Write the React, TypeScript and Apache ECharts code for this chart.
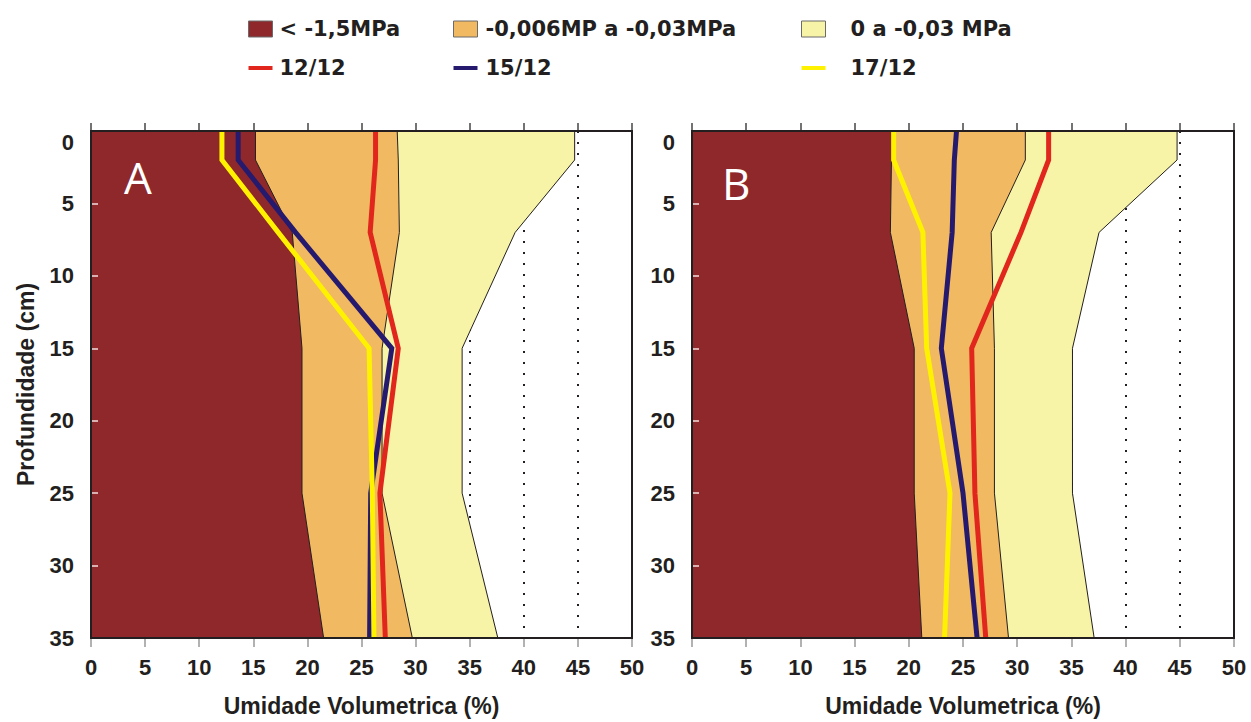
import React, { useEffect, useRef } from 'react';
import * as echarts from 'echarts';

// Depths (cm) at which profiles were measured
const depths = [0, 2, 7, 15, 25, 35];

// Panel A: right edges of the water-potential bands (% volumetric moisture)
const dryA = [15.2, 15.2, 18.6, 19.5, 19.5, 21.5];
const midA = [28.3, 28.4, 28.5, 26.9, 26.9, 29.7];
const wetA = [44.7, 44.7, 39.2, 34.3, 34.3, 37.6];
// Panel A: measured profiles
const d1212A = [26.3, 26.3, 25.8, 28.4, 26.7, 27.2];
const d1512A = [13.6, 13.6, 18.9, 27.8, 25.85, 25.75];
const d1712A = [12.1, 12.1, 17.3, 25.7, 26.0, 26.15];

// Panel B
const dryB = [18.4, 18.4, 18.3, 20.5, 20.5, 21.2];
const midB = [30.75, 30.75, 27.6, 27.9, 27.9, 29.2];
const wetB = [44.75, 44.75, 37.55, 35.1, 35.1, 37.1];
const d1212B = [32.9, 32.9, 30.35, 25.8, 26.1, 27.1];
const d1512B = [24.4, 24.2, 24.0, 23.0, 25.0, 26.3];
const d1712B = [18.6, 18.6, 21.3, 21.65, 23.8, 23.3];

const bandNames = ['< -1,5MPa', '-0,006MP a -0,03MPa', '0 a -0,03 MPa'];
const lineNames = ['12/12', '15/12', '17/12'];
const panelLabels = ['A', 'B'];

const bandColors = ['#8f282b', '#f1b961', '#f7f4a7'];
const lineColors = ['#e0261d', '#251a6e', '#fff200'];
const INK = '#231f20';

function bandSeries(name: string, color: string, values: number[], g: number) {
  const pts = values.map((v, i) => [v, depths[i]]);
  return {
    type: 'custom',
    name,
    coordinateSystem: 'cartesian2d',
    xAxisIndex: g * 2,
    yAxisIndex: g,
    data: pts,
    encode: { x: 0, y: 1 },
    silent: true,
    clip: true,
    itemStyle: { color, borderColor: '#666', borderWidth: 1 },
    renderItem: (params: any, api: any) => {
      if (params.dataIndex !== 0) return null;
      const edge = pts.map((p) => api.coord(p));
      const poly = [
        api.coord([0, depths[0]]),
        ...edge,
        api.coord([0, depths[depths.length - 1]]),
      ];
      return {
        type: 'group',
        children: [
          { type: 'polygon', shape: { points: poly }, style: { fill: color } },
          {
            type: 'polyline',
            shape: { points: edge },
            style: { stroke: INK, lineWidth: 1, fill: null },
          },
        ],
      };
    },
  };
}

function lineSeries(name: string, color: string, values: number[], g: number) {
  return {
    type: 'line',
    name,
    xAxisIndex: g * 2,
    yAxisIndex: g,
    data: values.map((v, i) => [v, depths[i]]),
    symbol: 'none',
    silent: true,
    lineStyle: { color, width: 5, join: 'miter' },
    itemStyle: { color },
  };
}

const tickFont = {
  fontFamily: 'Liberation Sans',
  fontWeight: 'bold' as const,
  fontSize: 22,
  color: INK,
};
const nameFont = {
  fontFamily: 'Liberation Sans',
  fontWeight: 'bold' as const,
  fontSize: 23,
  color: INK,
};

export default function App() {
  const ref = useRef<HTMLDivElement>(null);

  useEffect(() => {
    document.body.style.margin = '0';
    if (!ref.current) return;
    const chart = echarts.init(ref.current, undefined, { renderer: 'svg' });

    const grids = [
      { left: 91, top: 131, width: 541, height: 509 },
      { left: 692, top: 131, width: 542, height: 509 },
    ].map((g) => ({
      ...g,
      show: true,
      z: 11,
      backgroundColor: 'transparent',
      borderColor: INK,
      borderWidth: 2,
    }));

    const xAxes: any[] = [];
    const yAxes: any[] = [];
    [0, 1].forEach((g) => {
      xAxes.push({
        type: 'value',
        gridIndex: g,
        min: 0,
        max: 50,
        interval: 5,
        position: 'bottom',
        z: 10,
        name: 'Umidade Volumetrica (%)',
        nameLocation: 'middle',
        nameGap: 56,
        nameTextStyle: nameFont,
        axisLine: { show: true, lineStyle: { color: INK, width: 2 } },
        axisTick: { show: true, inside: true, length: 8, lineStyle: { color: '#444', width: 1.5 } },
        axisLabel: { ...tickFont, margin: 18 },
        splitLine: { show: false },
      });
      xAxes.push({
        type: 'value',
        gridIndex: g,
        min: 0,
        max: 50,
        interval: 5,
        position: 'bottom',
        z: 0,
        axisLine: { show: false },
        axisTick: { show: true, inside: false, length: 9, lineStyle: { color: '#999', width: 1.5 } },
        axisLabel: { show: false },
        splitLine: { show: true, lineStyle: { color: INK, width: 2, type: [2, 9] } },
      });
      yAxes.push({
        type: 'value',
        gridIndex: g,
        inverse: true,
        min: 0,
        max: 35,
        interval: 5,
        z: 10,
        name: g === 0 ? 'Profundidade (cm)' : '',
        nameLocation: 'middle',
        nameGap: 54,
        nameRotate: 90,
        nameTextStyle: nameFont,
        axisLine: { show: true, lineStyle: { color: INK, width: 2 } },
        axisTick: { show: true, inside: true, length: 7, lineStyle: { color: '#f3dede', width: 1.5 } },
        axisLabel: { ...tickFont, margin: 17, verticalAlignMinLabel: 'top' },
        splitLine: { show: false },
      });
    });

    const bandsByPanel = [
      [dryA, midA, wetA],
      [dryB, midB, wetB],
    ];
    const linesByPanel = [
      [d1212A, d1512A, d1712A],
      [d1212B, d1512B, d1712B],
    ];

    const series: any[] = [];
    [0, 1].forEach((g) => {
      // draw wettest band first so drier bands sit on top
      [2, 1, 0].forEach((b) => {
        series.push(bandSeries(bandNames[b], bandColors[b], bandsByPanel[g][b], g));
      });
      [0, 1, 2].forEach((l) => {
        series.push(lineSeries(lineNames[l], lineColors[l], linesByPanel[g][l], g));
      });
    });

    const legendText = {
      fontFamily: 'DejaVu Sans',
      fontWeight: 'bold' as const,
      fontSize: 21,
      lineHeight: 24,
      color: INK,
    };
    const legendLefts = [243, 448, 796];
    const legendPads = [2, 3, 20];
    const legend = [0, 1, 2].map((c) => ({
      orient: 'vertical',
      left: legendLefts[c],
      top: 12,
      itemWidth: 24,
      itemHeight: 16,
      itemGap: 15,
      selectedMode: false,
      symbolKeepAspect: true,
      textStyle: { ...legendText, padding: [0, 0, 0, legendPads[c]] },
      data: [
        {
          name: bandNames[c],
          icon: 'rect',
          itemStyle: { color: bandColors[c], borderColor: '#6b6b6b', borderWidth: 1 },
        },
        {
          name: lineNames[c],
          icon: 'path://M0,0h24v4h-24z',
          itemStyle: { color: lineColors[c], borderWidth: 0 },
        },
      ],
    }));

    const graphic = [
      { x: 124, y: 177, label: panelLabels[0] },
      { x: 722, y: 183, label: panelLabels[1] },
    ].map((p) => ({
      type: 'text',
      x: p.x,
      y: p.y,
      z: 20,
      silent: true,
      style: {
        text: p.label,
        fill: '#ffffff',
        fontFamily: 'Open Sans',
        fontSize: 44,
        fontWeight: 'normal',
        verticalAlign: 'middle',
        align: 'left',
      },
    }));

    chart.setOption({
      animation: false,
      backgroundColor: '#ffffff',
      grid: grids,
      xAxis: xAxes,
      yAxis: yAxes,
      legend,
      graphic,
      series,
    });

    return () => chart.dispose();
  }, []);

  return <div ref={ref} style={{ width: 1251, height: 722 }} />;
}
